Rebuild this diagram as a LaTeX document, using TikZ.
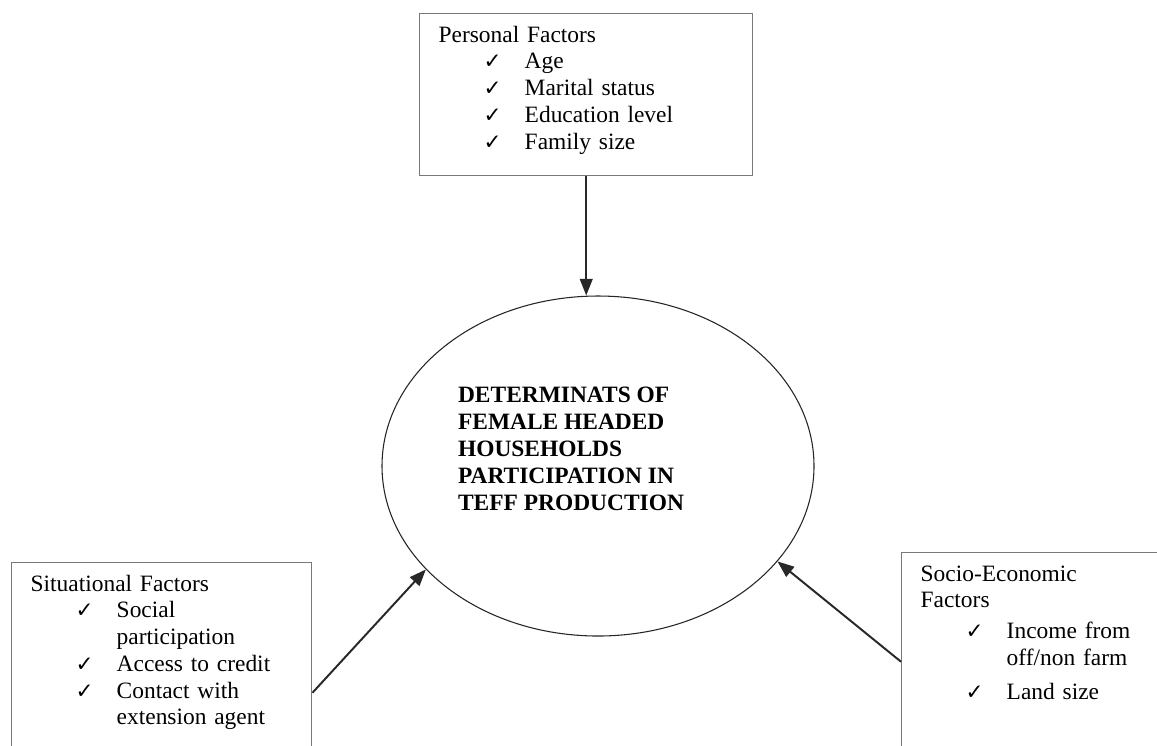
\documentclass[tikz,border=0pt]{standalone}
\usepackage{fontspec}
\setmainfont{Liberation Serif}
\newfontfamily\chkfont{DejaVu Sans}
\usepackage{tikz}
\usetikzlibrary{
  shapes.geometric,
  arrows.meta
}
\definecolor{boxgray}{RGB}{120,120,120}
\definecolor{linegray}{RGB}{40,40,40}

% check-marked list lines
\newcommand{\chk}{{\chkfont\fontsize{11}{11}\selectfont ✓}}
\newcommand{\chkitem}[1]{\hspace*{0.81cm}\makebox[0.74cm][l]{\chk}#1}
\newcommand{\chkcont}[1]{\hspace*{1.55cm}#1}

\begin{document}
\begin{tikzpicture}[
  factor/.style={draw=boxgray, line width=0.75pt, anchor=north west,
                 align=left, font=\fontsize{12}{13.7}\selectfont,
                 inner xsep=0.34cm, inner ysep=6pt, text height=8.5pt},
  centre/.style={draw=black!85, line width=0.55pt, ellipse,
                 minimum width=7.776cm, minimum height=6.12cm},
  title/.style={align=left, font=\bfseries\fontsize{12}{13.9}\selectfont},
  flow/.style={-{Triangle[length=8.5pt,width=6.5pt]}, line width=1pt, linegray}
]
\path[use as bounding box, clip] (0,0) rectangle (20.826,-13.41);

%% ---------- CENTRE ----------
\node[centre] (det) at (10.764,-8.388) {};
\node[title] (detlbl) at (10.278,-8.082)
  {DETERMINATS OF\\FEMALE HEADED\\HOUSEHOLDS\\PARTICIPATION IN\\TEFF PRODUCTION};

%% ---------- FACTOR BOXES ----------
\node[factor, text width=5.314cm, text depth=2.195cm] (personal) at (7.542,-0.234)
  {Personal Factors\\
   \chkitem{Age}\\
   \chkitem{Marital status}\\
   \chkitem{Education level}\\
   \chkitem{Family size}};

\node[factor, text width=4.72cm, text depth=3.959cm] (situational) at (0.198,-10.116)
  {Situational Factors\\
   \chkitem{Social}\\
   \chkcont{participation}\\
   \chkitem{Access to credit}\\
   \chkitem{Contact with}\\
   \chkcont{extension agent}};

\node[factor, text width=4.5cm, text depth=3.203cm] (socio) at (16.218,-9.936)
  {Socio-Economic\\
   Factors\\[2pt]
   \chkitem{Income from}\\
   \chkcont{off/non farm}\\[4pt]
   \chkitem{Land size}};

%% ---------- ARROWS ----------
\draw[flow] (personal.south) -- (personal.south |- det.north);
\draw[flow] (situational.east) -- (det.211);
\draw[flow] (socio.west) -- (det.332);

\end{tikzpicture}
\end{document}
